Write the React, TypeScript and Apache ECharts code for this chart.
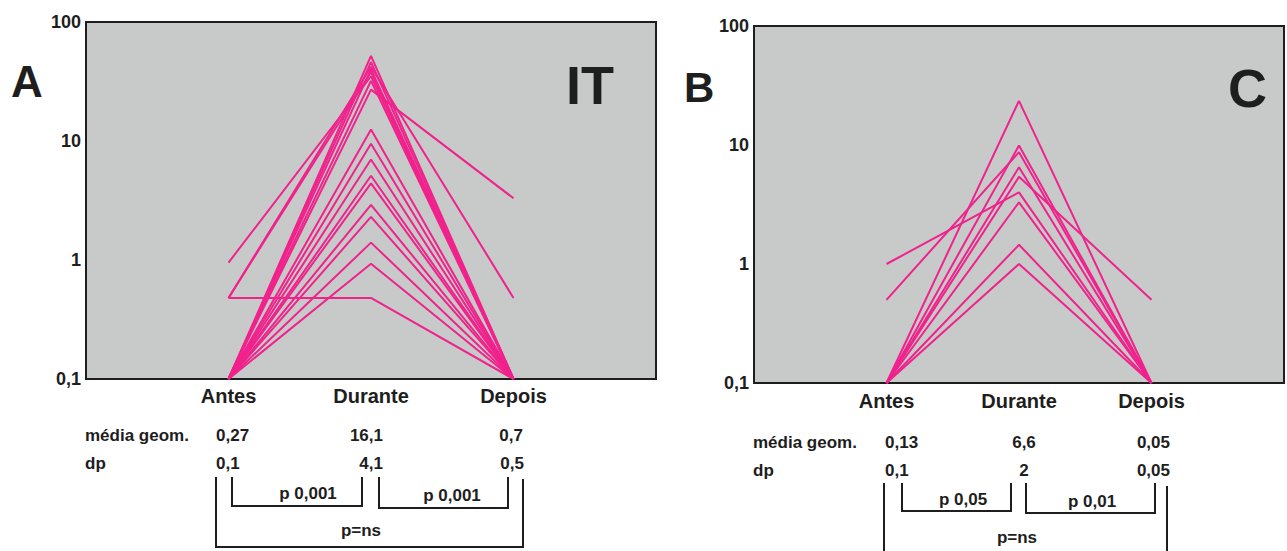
import React, { useEffect, useRef } from 'react';
import * as echarts from 'echarts';

// ---------- data ----------
const categories = ['', 'Antes', 'Durante', 'Depois', ''];
const yTicks = [0.1, 1, 10, 100];
const yTickLabels = ['0,1', '1', '10', '100'];

// Panel A (IT): one entry per subject
const antesA = [0.1, 0.1, 0.48, 0.48, 0.95, 0.1, 0.1, 0.1, 0.1, 0.1, 0.1, 0.1, 0.1, 0.1, 0.1, 0.1, 0.1, 0.48];
const duranteA = [52, 46, 42, 38, 35, 40, 32, 27, 12.5, 9.5, 7, 5.1, 4.4, 2.9, 2.3, 1.4, 0.93, 0.48];
const depoisA = [0.1, 0.1, 0.48, 0.1, 0.1, 0.1, 0.1, 3.3, 0.1, 0.1, 0.1, 0.1, 0.1, 0.1, 0.1, 0.1, 0.1, 0.1];

// Panel B (C)
const antesB = [0.1, 0.1, 0.5, 0.1, 0.1, 1.0, 0.1, 0.1, 0.1];
const duranteB = [23.5, 9.9, 8.7, 6.5, 5.4, 4.0, 3.3, 1.45, 1.0];
const depoisB = [0.1, 0.1, 0.1, 0.1, 0.5, 0.1, 0.1, 0.1, 0.1];

const statRowLabels = ['média geom.', 'dp'];
const geoMeanA = ['0,27', '16,1', '0,7'];
const sdA = ['0,1', '4,1', '0,5'];
const pA = ['p 0,001', 'p 0,001', 'p=ns'];
const geoMeanB = ['0,13', '6,6', '0,05'];
const sdB = ['0,1', '2', '0,05'];
const pB = ['p 0,05', 'p 0,01', 'p=ns'];
const panelLetters = ['A', 'B'];
const panelTags = ['IT', 'C'];

// ---------- style ----------
const FONT = '"Liberation Sans", Arial, Helvetica, sans-serif';
const INK = '#1e1e1e';
const PINK = '#f0228c';
const PLOT_BG = '#c7cac9';

function txt(text: string, x: number, y: number, size: number, align: string = 'left') {
  return {
    type: 'text',
    x,
    y,
    silent: true,
    style: {
      text,
      font: `bold ${size}px ${FONT}`,
      fill: INK,
      align,
      verticalAlign: 'middle',
    },
  };
}

function bracket(points: number[][]) {
  return {
    type: 'polyline',
    silent: true,
    shape: { points },
    style: { stroke: INK, lineWidth: 2, fill: null },
  };
}

export default function App() {
  const ref = useRef<HTMLDivElement>(null);

  useEffect(() => {
    if (!ref.current) return;
    const chart = echarts.init(ref.current, null, { renderer: 'svg' });

    const mkSeries = (ant: number[], dur: number[], dep: number[], idx: number) =>
      ant.map((a, i) => ({
        type: 'line',
        xAxisIndex: idx,
        yAxisIndex: idx,
        data: [null, a, dur[i], dep[i], null],
        symbol: 'none',
        connectNulls: false,
        lineStyle: { color: PINK, width: 2 },
        silent: true,
      }));

    const yLabel = (v: number) => {
      const k = yTicks.findIndex((t) => Math.abs(Math.log10(t) - Math.log10(v)) < 0.01);
      return k >= 0 ? yTickLabels[k] : '';
    };

    const xAxisCommon = {
      type: 'category',
      data: categories,
      boundaryGap: false,
      axisLine: { show: false },
      axisTick: { show: false },
      splitLine: { show: false },
      axisLabel: {
        interval: 0,
        margin: 7,
        fontSize: 20,
        fontWeight: 'bold',
        fontFamily: FONT,
        color: INK,
      },
    };
    const yAxisCommon = {
      type: 'log',
      logBase: 10,
      min: 0.1,
      max: 100,
      axisLine: { show: false },
      axisTick: { show: false },
      splitLine: { show: false },
      axisLabel: {
        margin: 5,
        fontSize: 18,
        fontWeight: 'bold',
        fontFamily: FONT,
        color: INK,
        formatter: yLabel,
        showMinLabel: true,
        showMaxLabel: true,
      },
    };

    const graphics: any[] = [
      // panel letters
      txt(panelLetters[0], 11, 81, 44),
      txt(panelTags[0], 566, 85, 54),
      txt(panelLetters[1], 684, 87, 42),
      txt(panelTags[1], 1228, 88, 54),

      // panel A statistics
      txt(statRowLabels[0], 85, 435, 17),
      txt(statRowLabels[1], 85, 463, 17),
      txt(geoMeanA[0], 216, 435, 17, 'left'),
      txt(geoMeanA[1], 383, 435, 17, 'right'),
      txt(geoMeanA[2], 523, 435, 17, 'right'),
      txt(sdA[0], 216, 463, 17, 'left'),
      txt(sdA[1], 383, 463, 17, 'right'),
      txt(sdA[2], 524, 463, 17, 'right'),
      bracket([[232, 477], [232, 506], [362, 506], [362, 477]]),
      bracket([[379, 477], [379, 508], [508, 508], [508, 477]]),
      bracket([[216, 477], [216, 547], [523, 547], [523, 479]]),
      txt(pA[0], 308, 493, 17, 'center'),
      txt(pA[1], 452, 495, 17, 'center'),
      txt(pA[2], 361, 530, 17, 'center'),

      // panel B statistics
      txt(statRowLabels[0], 753, 442, 17),
      txt(statRowLabels[1], 753, 470, 17),
      txt(geoMeanB[0], 885, 442, 17, 'left'),
      txt(geoMeanB[1], 1024, 442, 17, 'center'),
      txt(geoMeanB[2], 1170, 442, 17, 'right'),
      txt(sdB[0], 885, 470, 17, 'left'),
      txt(sdB[1], 1024, 470, 17, 'center'),
      txt(sdB[2], 1170, 470, 17, 'right'),
      bracket([[902, 483], [902, 511], [1011, 511], [1011, 483]]),
      bracket([[1026, 483], [1026, 513], [1155, 513], [1155, 483]]),
      bracket([[884, 483], [884, 565], [1167, 565], [1167, 486]]),
      txt(pB[0], 963, 499, 17, 'center'),
      txt(pB[1], 1092, 501, 17, 'center'),
      txt(pB[2], 1017, 537, 17, 'center'),
    ];

    chart.setOption({
      animation: false,
      backgroundColor: '#ffffff',
      grid: [
        {
          left: 86,
          top: 22,
          width: 570,
          height: 357,
          show: true,
          backgroundColor: PLOT_BG,
          borderColor: INK,
          borderWidth: 2,
        },
        {
          left: 754,
          top: 26,
          width: 536,
          height: 357,
          show: true,
          backgroundColor: PLOT_BG,
          borderColor: INK,
          borderWidth: 2,
        },
      ],
      xAxis: [
        { ...xAxisCommon, gridIndex: 0 },
        { ...xAxisCommon, gridIndex: 1, axisLabel: { ...xAxisCommon.axisLabel, margin: 8 } },
      ],
      yAxis: [
        { ...yAxisCommon, gridIndex: 0 },
        { ...yAxisCommon, gridIndex: 1 },
      ],
      series: [...mkSeries(antesA, duranteA, depoisA, 0), ...mkSeries(antesB, duranteB, depoisB, 1)],
      graphic: graphics,
    });

    return () => chart.dispose();
  }, []);

  return (
    <div
      ref={ref}
      style={{ position: 'absolute', left: 0, top: 0, width: 1287, height: 551, background: '#fff' }}
    />
  );
}
